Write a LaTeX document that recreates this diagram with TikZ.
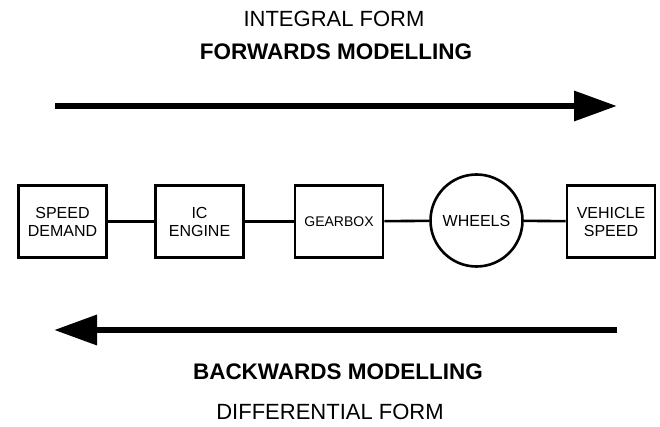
\documentclass[tikz,border=0pt]{standalone}
\usepackage{fontspec}
\setmainfont{Liberation Sans}
\usetikzlibrary{arrows.meta}

\tikzset{
  blk/.style={draw, line width=2.6pt, minimum width=88pt, minimum height=72pt,
              align=center, inner sep=0pt, font=\fontsize{16pt}{18pt}\selectfont},
  whl/.style={draw, circle, line width=2.6pt, minimum size=92pt, inner sep=0pt,
              font=\fontsize{16pt}{18pt}\selectfont},
  link/.style={line width=2.6pt},
  bigarrow/.style={line width=6.5pt, -{Triangle[length=43pt,width=29pt]}},
  heading/.style={font=\fontsize{22.5pt}{27pt}\selectfont\bfseries, inner sep=0pt},
  subheading/.style={font=\fontsize{22pt}{26pt}\selectfont, inner sep=0pt}
}

\begin{document}
\begin{tikzpicture}[x=1pt, y=-1pt]
  \useasboundingbox (0,0) rectangle (660,427);

  % headings
  \node[subheading] (intform) at (334,19) {INTEGRAL FORM};
  \node[heading] (fwd) at (336,52) {FORWARDS MODELLING};
  \node[heading] (bwd) at (338,372) {BACKWARDS MODELLING};
  \node[subheading] (diffform) at (330,412) {DIFFERENTIAL FORM};

  % direction arrows
  \coordinate (fwdA) at (55,106);
  \coordinate (fwdB) at (617,106);
  \coordinate (bwdA) at (617,330);
  \coordinate (bwdB) at (54,330);
  \draw[bigarrow] (fwdA) -- (fwdB);
  \draw[bigarrow] (bwdA) -- (bwdB);

  % drivetrain chain
  \node[blk] (demand) at (62.5,221.5) {SPEED\\DEMAND};
  \node[blk] (engine) at (199.5,221.5) {IC\\ENGINE};
  \node[blk, font=\fontsize{14pt}{16pt}\selectfont] (gearbox) at (339,221.5) {GEARBOX};
  \node[whl] (wheels) at (476.5,220.5) {WHEELS};
  \node[blk] (vehicle) at (611,221.5) {VEHICLE\\SPEED};

  \draw[link] (demand) -- (engine);
  \draw[link] (engine) -- (gearbox);
  \draw[link] (gearbox) -- (wheels);
  \draw[link] (wheels) -- (vehicle);
\end{tikzpicture}
\end{document}
